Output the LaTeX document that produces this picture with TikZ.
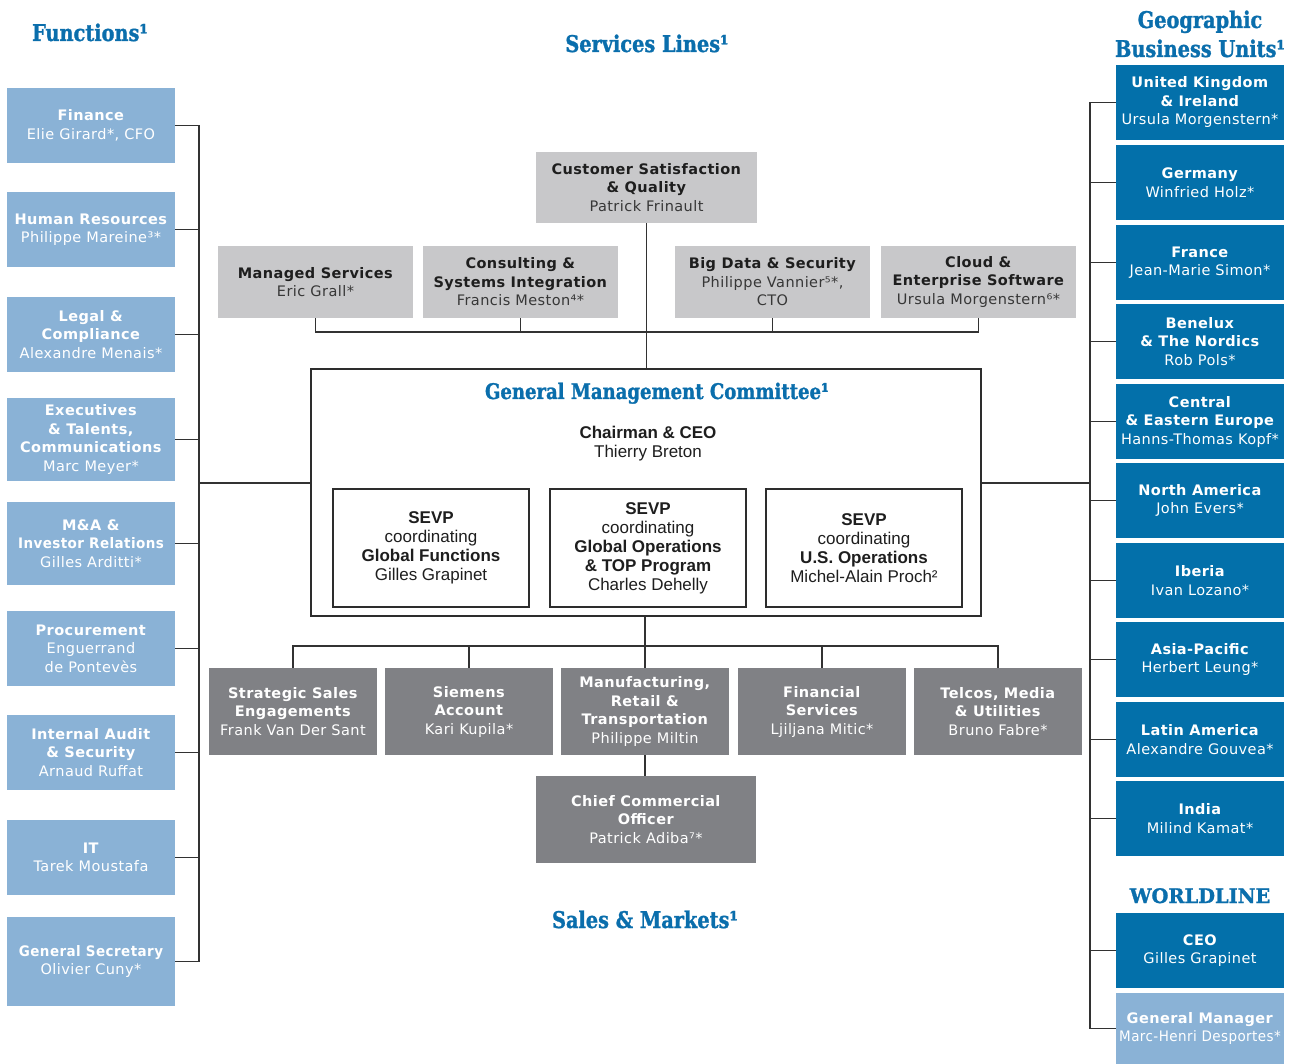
\documentclass[tikz,border=0pt]{standalone}
\usepackage{fontspec}
\setmainfont{DejaVu Sans}[LetterSpace=3]
\newfontfamily\narrowfont{DejaVu Sans}[FakeStretch=0.93, LetterSpace=3]
\newfontfamily\titlefont{DejaVu Serif}[FakeStretch=0.84, BoldFeatures={FakeBold=1.2}]
\newfontfamily\wlfont{DejaVu Serif}[FakeStretch=0.97, BoldFeatures={FakeBold=1.2}]
\newfontfamily\gmcfont{Liberation Sans}
\definecolor{tblue}{RGB}{10,110,172}
\definecolor{dblue}{RGB}{3,112,170}
\definecolor{lblue}{RGB}{138,178,214}
\definecolor{lgray}{RGB}{200,200,202}
\definecolor{dgray}{RGB}{128,129,133}
\definecolor{lc}{RGB}{50,50,50}
\definecolor{frame}{RGB}{45,45,45}
\definecolor{txtdark}{RGB}{30,30,30}
\definecolor{txtname}{RGB}{55,55,55}
\tikzset{
 box/.style={rectangle, inner sep=0pt, align=center, minimum width=168pt, font=\fontsize{14.5}{18.5}\selectfont},
 lbox/.style={box, fill=lblue, text=white, minimum height=75pt},
 rbox/.style={box, fill=dblue, text=white, minimum height=75pt},
 gbox/.style={box, fill=lgray, text=txtname, minimum height=72pt, minimum width=195pt},
 dbox/.style={box, fill=dgray, text=white, minimum height=87pt},
 conn/.style={draw=lc, line width=1.2pt},
 ttl/.style={text=tblue, font=\titlefont\bfseries\fontsize{23}{28}\selectfont, align=center, inner sep=0pt, anchor=base},
 sevpbox/.style={draw=frame, line width=1.4pt, minimum width=196pt, minimum height=118pt, align=center, inner sep=0pt, font=\gmcfont\fontsize{17}{19}\selectfont, text=txtdark}
}
\begin{document}
\begin{tikzpicture}[x=1pt,y=-1pt]
\useasboundingbox[fill=white] (0,0) rectangle (1293,1064);

% ---------- titles ----------
\node[ttl] (tfun) at (90,41) {Functions¹};
\node[ttl] (tsl) at (647,52) {Services Lines¹};
\node[ttl] (tgeo1) at (1200,28) {Geographic};
\node[ttl] (tgeo2) at (1200,57) {Business Units¹};
\node[ttl, font=\titlefont\bfseries\fontsize{21.5}{24}\selectfont] (tgmc) at (657,399) {General Management Committee¹};
\node[ttl] (tsm) at (645,928) {Sales \& Markets¹};
\node[ttl, font=\wlfont\bfseries\fontsize{20}{24}\selectfont] (twl) at (1200,903) {WORLDLINE};

% ---------- left: functions ----------
\node[lbox] (fin) at (91,125.5) {\textbf{Finance}\\Elie Girard*, CFO};
\node[lbox] (hr) at (91,229.5) {\textbf{Human Resources}\\Philippe Mareine³*};
\node[lbox] (legal) at (91,334.5) {\textbf{Legal \&}\\\textbf{Compliance}\\Alexandre Menais*};
\node[lbox, minimum height=83pt] (exec) at (91,439.5) {\textbf{Executives}\\\textbf{\& Talents,}\\\textbf{Communications}\\Marc Meyer*};
\node[lbox, minimum height=83pt] (ma) at (91,543.5) {\textbf{M\&A \&}\\{\narrowfont\bfseries Investor Relations}\\Gilles Arditti*};
\node[lbox] (proc) at (91,648.5) {\textbf{Procurement}\\Enguerrand\\de Pontevès};
\node[lbox] (ia) at (91,752.5) {\textbf{Internal Audit}\\\textbf{\& Security}\\Arnaud Ruffat};
\node[lbox] (it) at (91,857.5) {\textbf{IT}\\Tarek Moustafa};
\node[lbox, minimum height=89pt] (gs) at (91,961.5) {{\narrowfont\bfseries General Secretary}\\Olivier Cuny*};

% ---------- right: geographic business units ----------
\node[rbox] (uk) at (1200,102.5) {\textbf{United Kingdom}\\\textbf{\& Ireland}\\Ursula Morgenstern*};
\node[rbox] (de) at (1200,182.5) {\textbf{Germany}\\Winfried Holz*};
\node[rbox] (fr) at (1200,262.5) {\textbf{France}\\Jean-Marie Simon*};
\node[rbox] (bnl) at (1200,341.5) {\textbf{Benelux}\\\textbf{\& The Nordics}\\Rob Pols*};
\node[rbox] (cee) at (1200,421.5) {\textbf{Central}\\\textbf{\& Eastern Europe}\\Hanns-Thomas Kopf*};
\node[rbox] (na) at (1200,500.5) {\textbf{North America}\\John Evers*};
\node[rbox] (ib) at (1200,580.5) {\textbf{Iberia}\\Ivan Lozano*};
\node[rbox] (ap) at (1200,659.5) {\textbf{Asia-Pacific}\\Herbert Leung*};
\node[rbox] (la) at (1200,739.5) {\textbf{Latin America}\\Alexandre Gouvea*};
\node[rbox] (ind) at (1200,818.5) {\textbf{India}\\Milind Kamat*};
\node[rbox] (ceo) at (1200,950.5) {\textbf{CEO}\\Gilles Grapinet};
\node[rbox, fill=lblue, minimum height=71pt] (gm) at (1200,1028.5) {\textbf{General Manager}\\{\narrowfont Marc-Henri Desportes*}};

% ---------- top: service lines ----------
\node[gbox, minimum width=221pt, minimum height=71pt] (cs) at (646.5,187.5) {\textcolor{txtdark}{\textbf{Customer Satisfaction}}\\\textcolor{txtdark}{\textbf{\& Quality}}\\Patrick Frinault};
\node[gbox] (ms) at (315.5,282) {\textcolor{txtdark}{\textbf{Managed Services}}\\Eric Grall*};
\node[gbox] (csi) at (520.5,282) {\textcolor{txtdark}{\textbf{Consulting \&}}\\\textcolor{txtdark}{\textbf{Systems Integration}}\\Francis Meston⁴*};
\node[gbox] (bd) at (772.5,282) {\textcolor{txtdark}{\textbf{Big Data \& Security}}\\Philippe Vannier⁵*,\\CTO};
\node[gbox] (ce) at (978.5,282) {\textcolor{txtdark}{\textbf{Cloud \&}}\\\textcolor{txtdark}{\textbf{Enterprise Software}}\\Ursula Morgenstern⁶*};

% ---------- general management committee ----------
\node[draw=frame, line width=1.6pt, minimum width=670pt, minimum height=247pt, inner sep=0pt] (gmc) at (646,492.5) {};
\node[align=center, inner sep=0pt, font=\gmcfont\fontsize{17}{19}\selectfont, text=txtdark] (chair) at (648,444) {\textbf{Chairman \& CEO}\\Thierry Breton};
\node[sevpbox] (sv1) at (431,548) {\textbf{SEVP}\\coordinating\\\textbf{Global Functions}\\Gilles Grapinet};
\node[sevpbox] (sv2) at (648,548) {\textbf{SEVP}\\coordinating\\\textbf{Global Operations}\\\textbf{\& TOP Program}\\Charles Dehelly};
\node[sevpbox] (sv3) at (864,548) {\textbf{SEVP}\\coordinating\\\textbf{U.S. Operations}\\Michel-Alain Proch²};

% ---------- bottom: sales & markets ----------
\node[dbox] (ss) at (293,711.5) {\textbf{Strategic Sales}\\\textbf{Engagements}\\Frank Van Der Sant};
\node[dbox] (sa) at (469,711.5) {\textbf{Siemens}\\\textbf{Account}\\Kari Kupila*};
\node[dbox] (mrt) at (645,711.5) {\textbf{Manufacturing,}\\\textbf{Retail \&}\\\textbf{Transportation}\\Philippe Miltin};
\node[dbox] (fs) at (822,711.5) {\textbf{Financial}\\\textbf{Services}\\Ljiljana Mitic*};
\node[dbox] (tmu) at (998,711.5) {\textbf{Telcos, Media}\\\textbf{\& Utilities}\\Bruno Fabre*};
\node[dbox, minimum width=220pt] (cco) at (646,819.5) {\textbf{Chief Commercial}\\\textbf{Officer}\\Patrick Adiba⁷*};

% ---------- connectors ----------
\coordinate (lb) at (199,483);
\coordinate (rb) at (1090,483);
\coordinate (tb) at (646,332);
\coordinate (bb) at (648,646);

% left bus
\draw[conn] (lb |- fin.east) -- (lb |- gs.east);
\foreach \n in {fin,hr,legal,exec,ma,proc,ia,it,gs}
  \draw[conn] (\n.east) -- (lb |- \n.east);
\draw[conn] (lb) -- (lb -| gmc.west);

% right bus
\draw[conn] (rb |- uk.west) -- (rb |- gm.west);
\foreach \n in {uk,de,fr,bnl,cee,na,ib,ap,la,ind,ceo,gm}
  \draw[conn] (\n.west) -- (rb |- \n.west);
\draw[conn] (rb) -- (rb -| gmc.east);

% top
\draw[conn] (cs.south) -- (cs.south |- gmc.north);
\draw[conn] (ms.south) -- (ms.south |- tb) -- (ce.south |- tb) -- (ce.south);
\draw[conn] (csi.south) -- (csi.south |- tb);
\draw[conn] (bd.south) -- (bd.south |- tb);

% bottom
\draw[conn] (mrt.north) -- (mrt.north |- gmc.south);
\draw[conn] (ss.north) -- (ss.north |- bb) -- (tmu.north |- bb) -- (tmu.north);
\draw[conn] (sa.north) -- (sa.north |- bb);
\draw[conn] (fs.north) -- (fs.north |- bb);
\draw[conn] (mrt.south) -- (mrt.south |- cco.north);
\end{tikzpicture}
\end{document}
